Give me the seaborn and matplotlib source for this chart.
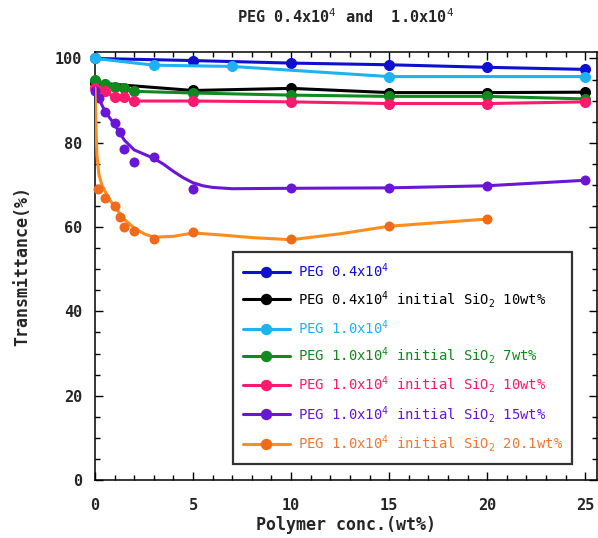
import matplotlib
matplotlib.use("Agg")
import matplotlib.pyplot as plt
import seaborn as sns
import pandas as pd
from matplotlib.lines import Line2D
from matplotlib.ticker import MultipleLocator

# ---------------- data ----------------
blue_x = [0, 5, 10, 15, 20, 25]
blue_y = [100.0, 99.5, 98.9, 98.5, 97.9, 97.4]

black_x = [0, 5, 10, 15, 20, 25]
black_y = [94.2, 92.4, 92.9, 91.9, 91.9, 92.0]

cyan_x = [0, 3, 7, 15, 25]
cyan_y = [100.0, 98.4, 98.1, 95.7, 95.7]

green_x = [0, 0.5, 1, 1.5, 2, 5, 10, 15, 20, 25]
green_y = [95.0, 94.0, 93.2, 92.9, 92.2, 91.8, 91.3, 91.0, 91.0, 90.4]

pink_x = [0, 0.5, 1, 1.5, 2, 5, 10, 15, 20, 25]
pink_y = [93.0, 92.2, 90.8, 90.8, 89.9, 89.9, 89.7, 89.3, 89.3, 89.7]

purple_x = [0, 0.2, 0.5, 1, 1.25, 1.5, 2, 3, 5, 10, 15, 20, 25]
purple_y = [92.3, 90.6, 87.2, 84.6, 82.5, 78.5, 75.4, 76.6, 69.1, 69.3, 69.3, 69.8, 71.1]
# smooth fitted curve as drawn in the reference
purple_fit_x = [0, 0.1, 0.25, 0.5, 1, 1.5, 2, 2.5, 3, 3.5, 4, 4.5, 5, 5.5, 6, 7, 10, 15, 20, 25]
purple_fit_y = [93.0, 91.8, 90.0, 87.5, 84.3, 80.6, 78.3, 77.3, 76.3, 74.9, 73.2, 71.7, 70.5, 69.8, 69.4, 69.1, 69.2, 69.3, 69.8, 71.1]

orange_x = [0.15, 0.5, 1, 1.25, 1.5, 2, 3, 5, 10, 15, 20]
orange_y = [69.0, 66.9, 64.9, 62.5, 60.0, 59.0, 57.2, 58.8, 57.2, 60.2, 61.9]
orange_fit_x = [0, 0.03, 0.06, 0.1, 0.2, 0.35, 0.5, 0.75, 1, 1.5, 2, 2.5, 3, 4, 5, 6.5, 8, 10, 12.5, 15, 20]
orange_fit_y = [93.0, 88.0, 82.0, 77.0, 72.5, 70.0, 68.6, 66.5, 64.8, 61.8, 59.8, 58.4, 57.6, 57.8, 58.6, 58.1, 57.5, 57.0, 58.4, 60.2, 61.9]

labels = [
    r"PEG 0.4x10$^4$",
    r"PEG 0.4x10$^4$ initial SiO$_2$ 10wt%",
    r"PEG 1.0x10$^4$",
    r"PEG 1.0x10$^4$ initial SiO$_2$ 7wt%",
    r"PEG 1.0x10$^4$ initial SiO$_2$ 10wt%",
    r"PEG 1.0x10$^4$ initial SiO$_2$ 15wt%",
    r"PEG 1.0x10$^4$ initial SiO$_2$ 20.1wt%",
]
line_colors = ["#0f0fd0", "#000000", "#1eb2f0", "#108a1e", "#fb1a6e", "#6a16d6", "#ff8c1e"]
marker_colors = ["#0f0fd0", "#000000", "#1eb2f0", "#108a1e", "#fb1a6e", "#6a16d6", "#f06a1a"]
text_colors = ["#0f0fd0", "#000000", "#1eb2f0", "#108a1e", "#fb1a6e", "#6a16d6", "#f07830"]

title = r"PEG 0.4x10$^4$ and  1.0x10$^4$"
xlabel = "Polymer conc.(wt%)"
ylabel = "Transmittance(%)"

# ---------------- style ----------------
sns.set_style("white")
plt.rcParams["font.family"] = ["DejaVu Sans Mono", "DejaVu Sans"]
plt.rcParams["mathtext.fontset"] = "custom"
plt.rcParams["mathtext.rm"] = "DejaVu Sans Mono"
plt.rcParams["mathtext.it"] = "DejaVu Sans Mono"
plt.rcParams["mathtext.bf"] = "DejaVu Sans Mono:bold"

W, H = 598, 538
fig = plt.figure(figsize=(W / 100, H / 100), dpi=100)
ax = fig.add_axes([95 / W, 1 - 480 / H, (597 - 95) / W, (480 - 51.7) / H])

LW = 2.2
MS = 7.2

simple = [
    (blue_x, blue_y, 0),
    (black_x, black_y, 1),
    (cyan_x, cyan_y, 2),
    (green_x, green_y, 3),
    (pink_x, pink_y, 4),
]
for xs, ys, i in simple:
    df = pd.DataFrame({"x": xs, "y": ys})
    sns.lineplot(data=df, x="x", y="y", ax=ax, color=line_colors[i], lw=LW,
                 marker="o", markersize=MS, markerfacecolor=marker_colors[i],
                 markeredgecolor=marker_colors[i], estimator=None, zorder=3 + i,
                 clip_on=False)

for fx, fy, px, py, i in [
    (purple_fit_x, purple_fit_y, purple_x, purple_y, 5),
    (orange_fit_x, orange_fit_y, orange_x, orange_y, 6),
]:
    dff = pd.DataFrame({"x": fx, "y": fy})
    sns.lineplot(data=dff, x="x", y="y", ax=ax, color=line_colors[i], lw=LW,
                 estimator=None, zorder=3 + i)
    dfp = pd.DataFrame({"x": px, "y": py})
    sns.scatterplot(data=dfp, x="x", y="y", ax=ax, color=marker_colors[i],
                    s=MS ** 2, edgecolor=marker_colors[i], linewidth=0,
                    zorder=3.5 + i, clip_on=False)

ax.set_xlim(0, 25.6)
ax.set_ylim(0, 101.6)
ax.xaxis.set_major_locator(MultipleLocator(5))
ax.xaxis.set_minor_locator(MultipleLocator(1))
ax.yaxis.set_major_locator(MultipleLocator(20))
ax.yaxis.set_minor_locator(MultipleLocator(5))
ax.tick_params(which="both", direction="in", top=True, right=True,
               bottom=True, left=True, width=1.0, color="black")
ax.tick_params(which="major", length=6)
ax.tick_params(which="minor", length=3.5)
ax.tick_params(axis="x", which="major", pad=13, labelsize=11)
ax.tick_params(axis="y", which="major", pad=9, labelsize=11)
for lab in ax.get_xticklabels() + ax.get_yticklabels():
    lab.set_fontweight("bold")
for sp in ax.spines.values():
    sp.set_color("black")
    sp.set_linewidth(1.1)

ax.set_xlabel(xlabel, fontsize=12, fontweight="bold")
ax.set_ylabel(ylabel, fontsize=12, fontweight="bold")
ax.xaxis.set_label_coords(0.5, (480 - 516) / (480 - 51.7))
ax.yaxis.set_label_coords((31 - 95) / (597 - 95), 0.5)

fig.text(346 / W, 1 - 17 / H, title, ha="center", va="center",
         fontsize=11, fontweight="bold")

handles = [
    Line2D([0], [0], color=line_colors[i], lw=LW, marker="o", markersize=MS,
           markerfacecolor=marker_colors[i], markeredgecolor=marker_colors[i])
    for i in range(7)
]
leg = fig.legend(handles, labels, loc="upper left",
                 bbox_to_anchor=(233 / W, 1 - 252 / H), borderaxespad=0,
                 fontsize=10, handlelength=3.4, handletextpad=0.55,
                 labelspacing=0.6, borderpad=0.7, fancybox=False,
                 frameon=True, labelcolor=text_colors)
leg.get_frame().set_edgecolor("black")
leg.get_frame().set_linewidth(1.6)
leg.set_zorder(20)

fig.savefig("out.png", dpi=100)
